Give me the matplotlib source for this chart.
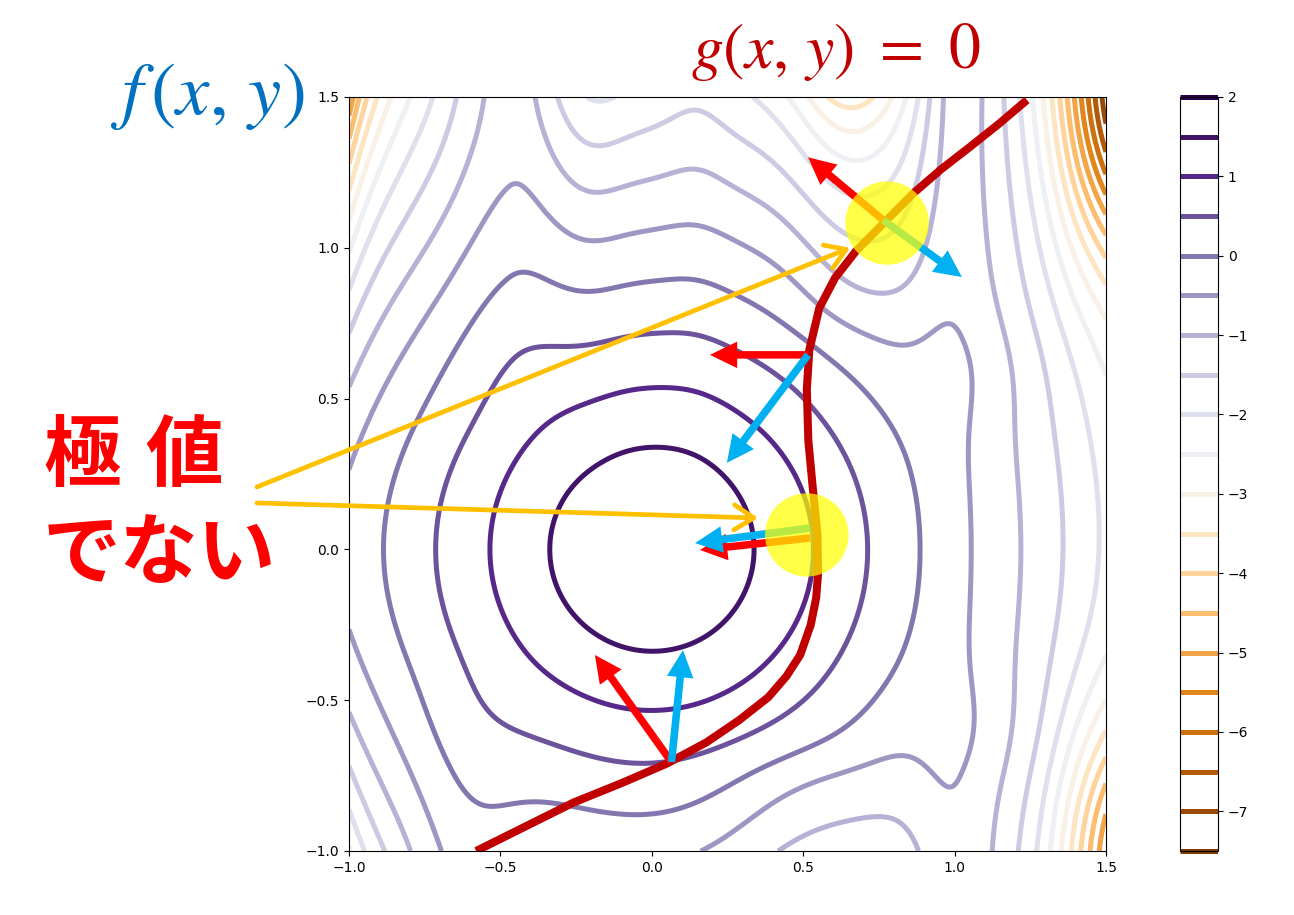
import numpy as np
import matplotlib
matplotlib.use("Agg")
import matplotlib.pyplot as plt
from matplotlib.patches import Circle

plt.rcParams['mathtext.fontset'] = 'stix'

# ---- data -------------------------------------------------------------
levels = np.arange(-7.5, 2.01, 0.5)
cbar_ticks = [2, 1, 0, -1, -2, -3, -4, -5, -6, -7]
xticks = [-1.0, -0.5, 0.0, 0.5, 1.0, 1.5]
yticks = [-1.0, -0.5, 0.0, 0.5, 1.0, 1.5]

# shape of f(x, y)
f_peak, f_slope, f_core = 1.97, 3.1, 0.3        # central hill
left_k2, left_k4, left_w = 0.85, 0.15, 0.09     # drop at the left edge corners
tongue_top = (-0.47, 0.25, 0.17, 1.30, 0.50)    # x, width left/right, height, decay
tongue_bot = (-0.62, 0.20, 0.20, 0.60, 0.45)
valley_top = (0.64, 0.17, -1.00, 0.25)          # x, width, depth, decay
bay_top = (0.68, 0.22, -0.30, 0.74)             # x, width, depth, y start
bay_bot = (0.50, 0.30, -0.45, 0.70)
ripple_x = [0.15, -0.20]
ripple_h = [0.26, -0.25]
ridge_x, ridge_wl, ridge_wr = 1.02, 0.15, 0.28
ridge_top, ridge_bot, ridge_mid = 0.92, 1.00, 0.15
cliff_x, cliff_w = 1.30, 0.045
cliff_base, cliff_top, cliff_bot = 1.2, 17.0, 12.0

# constraint curve g(x, y) = 0
g_x = [-0.58, -0.42, -0.26, -0.10, 0.05, 0.18, 0.29, 0.385, 0.445, 0.49, 0.525,
       0.543, 0.549, 0.547, 0.532, 0.517, 0.512, 0.52, 0.553, 0.605, 0.675,
       0.764, 0.863, 0.955, 1.05, 1.145, 1.239]
g_y = [-1.0, -0.92, -0.84, -0.775, -0.71, -0.64, -0.565, -0.49, -0.42, -0.35,
       -0.25, -0.16, -0.08, 0.05, 0.2, 0.36, 0.53, 0.66, 0.80, 0.90, 0.99, 1.08,
       1.18, 1.26, 1.334, 1.41, 1.49]

# gradient arrows (tail, tip)
red_arrows = [((0.065, -0.705), (-0.188, -0.35)),
              ((0.516, 0.645), (0.192, 0.645)),
              ((0.523, 0.038), (0.159, -0.002)),
              ((0.764, 1.092), (0.516, 1.30))]
blue_arrows = [((0.065, -0.705), (0.103, -0.334)),
               ((0.516, 0.645), (0.248, 0.287)),
               ((0.523, 0.071), (0.143, 0.021)),
               ((0.764, 1.092), (1.024, 0.903))]
circles = [(0.512, 0.048), (0.777, 1.082)]
circle_r = 0.138
pointer_tail = [(-1.304, 0.207), (-1.304, 0.154)]
pointer_tip = [(0.655, 1.0), (0.351, 0.104)]

# ---- field ------------------------------------------------------------
x = np.linspace(-1.0, 1.5, 500)
y = np.linspace(-1.0, 1.5, 500)
X, Y = np.meshgrid(x, y)


def gauss(v, c, w):
    return np.exp(-((v - c) / w) ** 2)


def sig(v):
    return 1.0 / (1.0 + np.exp(-v))


Z = f_peak - f_slope * (np.sqrt(X**2 + Y**2 + f_core**2) - f_core)
Z += -(left_k2 * Y**2 + left_k4 * Y**4) * np.exp(-(X + 1.0) / left_w)

cx, wl, wr, h, d = tongue_top
w = np.where(X < cx, wl, wr)
Z += h * np.exp((Y - 1.5) / d) * gauss(X, cx, w) * sig((Y - 0.5) / 0.08)
cx, wl, wr, h, d = tongue_bot
w = np.where(X < cx, wl, wr)
Z += h * np.exp((-Y - 1.0) / d) * gauss(X, cx, w) * sig((-Y - 0.45) / 0.08)

cx, w, h, d = valley_top
Z += h * np.exp((Y - 1.45) / d) * gauss(X, cx, w)
cx, w, h, y0 = bay_top
Z += h * gauss(X, cx, w) * sig((Y - y0) / 0.06)
cx, w, h, y0 = bay_bot
Z += h * gauss(X, cx, w) * sig((-Y - y0) / 0.06)
for rx, rh in zip(ripple_x, ripple_h):
    Z += rh * np.exp((Y - 1.5) / 0.4) * gauss(X, rx, 0.12)

ridge_w = np.where(X < ridge_x, ridge_wl, ridge_wr)
ridge_h = (np.where(Y > 0, ridge_top, ridge_bot) * Y**2
           + ridge_mid * (gauss(Y, 0.6, 0.2) + gauss(Y, -0.6, 0.2)))
Z += ridge_h * gauss(X, ridge_x, ridge_w)

slope = (cliff_base + cliff_top * gauss(Y, 1.5, 0.5)
         + cliff_bot * gauss(Y, -1.0, 0.45))
Z += -slope * cliff_w * np.logaddexp(0, (X - cliff_x) / cliff_w)

# ---- figure -----------------------------------------------------------
fig = plt.figure(figsize=(12.94, 9.15), dpi=100)
ax = fig.add_axes([349/1294, 64/915, 757/1294, 754/915])
cax = fig.add_axes([1180/1294, 64/915, 38/1294, 754/915])

CS = ax.contour(X, Y, Z, levels=levels, cmap='PuOr', linewidths=3.6)
cb = fig.colorbar(CS, cax=cax, ticks=cbar_ticks)
cb.ax.tick_params(labelsize=10)

ax.set_xlim(-1.0, 1.5)
ax.set_ylim(-1.0, 1.5)
ax.set_xticks(xticks)
ax.set_yticks(yticks)
ax.tick_params(labelsize=10)

ax.plot(g_x, g_y, color='#C00000', lw=5.8, solid_capstyle='butt',
        solid_joinstyle='round', zorder=5)

for (t, hd) in red_arrows:
    ax.arrow(t[0], t[1], hd[0]-t[0], hd[1]-t[1], width=0.025, head_width=0.088,
             head_length=0.09, length_includes_head=True, color='#FF0000',
             lw=0, zorder=6)
for (t, hd) in blue_arrows:
    ax.arrow(t[0], t[1], hd[0]-t[0], hd[1]-t[1], width=0.025, head_width=0.088,
             head_length=0.09, length_includes_head=True, color='#00B0F0',
             lw=0, zorder=6)
for c in circles:
    ax.add_patch(Circle(c, circle_r, color='yellow', alpha=0.72, lw=0, zorder=8))

for t, hd in zip(pointer_tail, pointer_tip):
    ax.annotate('', xy=hd, xytext=t, xycoords='data', textcoords='data',
                annotation_clip=False,
                arrowprops=dict(arrowstyle='->,head_length=0.7,head_width=0.45',
                                color='#FFC000', lw=3.4, mutation_scale=20,
                                shrinkA=0, shrinkB=0), zorder=7)

fig.text(207/1294, 1-95/915, r'$f\,(x,\,y)$', color='#0070C0', fontsize=54,
         ha='center', va='center')
fig.text(836/1294, 1-52/915, r'$g(x,\,y)\ =\ 0$', color='#C00000', fontsize=46,
         ha='center', va='center')
jp = ['Noto Sans CJK JP', 'DejaVu Sans']
fig.text(43/1294, 1-457/915, '極', color='#FF0000', fontsize=56, family=jp,
         weight='bold', ha='left', va='center')
fig.text(145/1294, 1-457/915, '値', color='#FF0000', fontsize=56, family=jp,
         weight='bold', ha='left', va='center')
fig.text(43/1294, 1-555/915, 'でない', color='#FF0000', fontsize=56, family=jp,
         weight='bold', ha='left', va='center')

fig.savefig('out.png', dpi=100)
